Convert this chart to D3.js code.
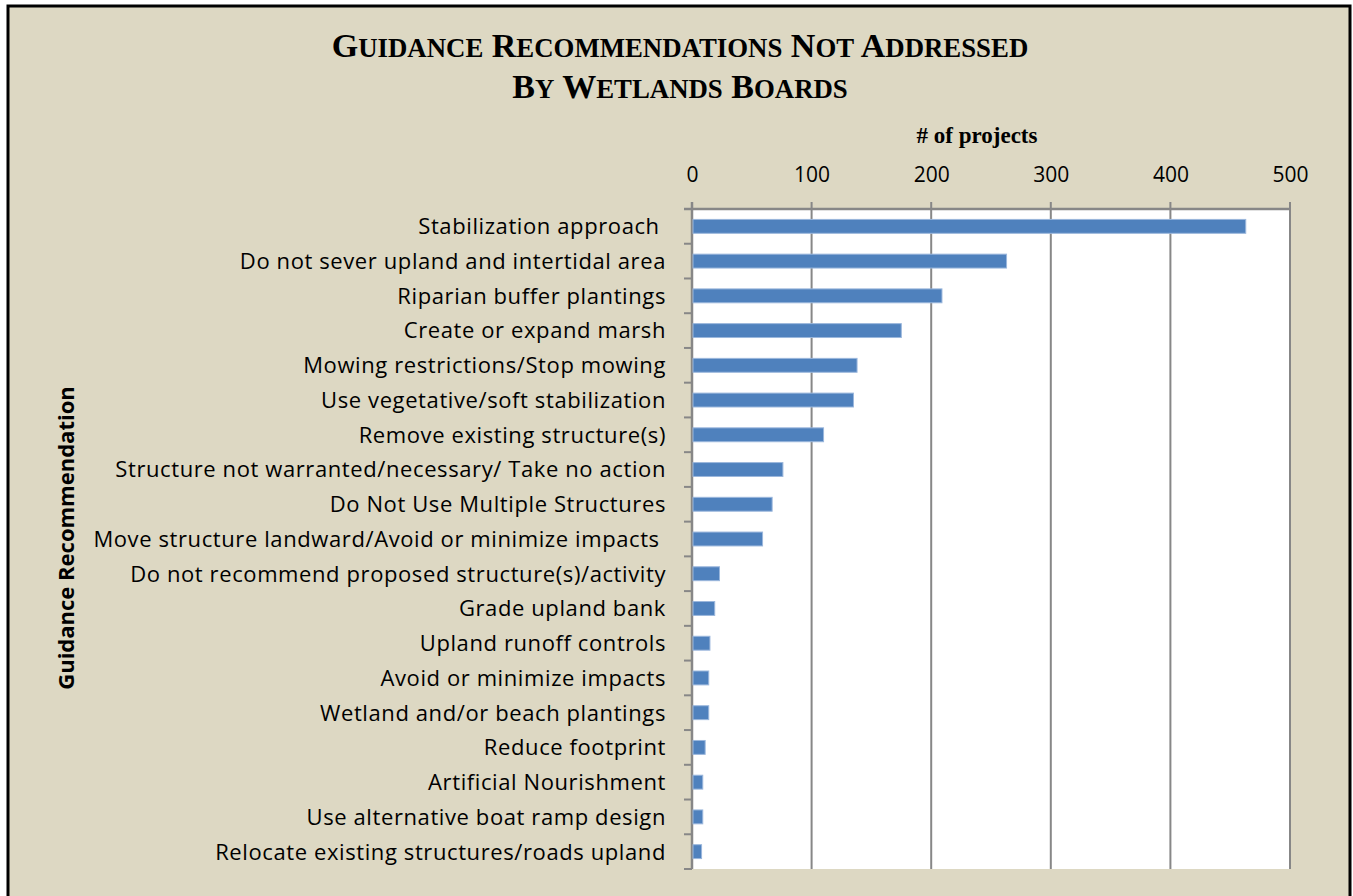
<!DOCTYPE html>
<html>
<head>
<meta charset="utf-8">
<script src="https://cdn.jsdelivr.net/npm/d3@7"></script>
<style>
  body { margin: 0; background: #fff; }
  svg { display: block; }
</style>
</head>
<body>
<div id="chart"></div>
<script>
// categories, top to bottom
var categories = [
  "Stabilization approach ",
  "Do not sever upland and intertidal area",
  "Riparian buffer plantings",
  "Create or expand marsh",
  "Mowing restrictions/Stop mowing",
  "Use vegetative/soft stabilization",
  "Remove existing structure(s)",
  "Structure not warranted/necessary/ Take no action",
  "Do Not Use Multiple Structures",
  "Move structure landward/Avoid or minimize impacts ",
  "Do not recommend proposed structure(s)/activity",
  "Grade upland bank",
  "Upland runoff controls",
  "Avoid or minimize impacts",
  "Wetland and/or beach plantings",
  "Reduce footprint",
  "Artificial Nourishment",
  "Use alternative boat ramp design",
  "Relocate existing structures/roads upland"
];
// # of projects
var projects = [463, 263, 209, 175, 138, 135, 110, 76, 67, 59, 23, 19, 15, 14, 14, 11, 9, 9, 8];
var xTicks = [0, 100, 200, 300, 400, 500];
var titleLines = ["Guidance Recommendations Not Addressed", "By Wetlands Boards"];

var width = 1353, height = 896;

var svg = d3.select("#chart").append("svg")
    .attr("width", width)
    .attr("height", height);

// background + frame
svg.append("rect")
    .attr("x", 8).attr("y", 6)
    .attr("width", 1342).attr("height", 900)
    .attr("fill", "#ddd8c3")
    .attr("stroke", "#000")
    .attr("stroke-width", 3);

// plot area
var plot = {left: 692, right: 1290, top: 209, bottom: 869};

var x = d3.scaleLinear()
    .domain([0, 500])
    .range([plot.left, plot.right]);

var y = d3.scaleBand()
    .domain(categories)
    .range([plot.top, plot.bottom])
    .paddingInner(0.6)
    .paddingOuter(0.3);

svg.append("rect")
    .attr("x", plot.left).attr("y", plot.top)
    .attr("width", plot.right - plot.left)
    .attr("height", plot.bottom - plot.top)
    .attr("fill", "#fff");

// vertical gridlines
svg.append("g").selectAll("line")
    .data(xTicks.slice(1))
    .enter().append("line")
    .attr("x1", d => x(d)).attr("x2", d => x(d))
    .attr("y1", plot.top - 7).attr("y2", plot.bottom)
    .attr("stroke", "#878787")
    .attr("stroke-width", 2);

// top axis
var topAxis = d3.axisTop(x)
    .tickValues(xTicks)
    .tickSize(0)
    .tickPadding(27);

var gx = svg.append("g")
    .attr("transform", `translate(0, ${plot.top})`)
    .call(topAxis);
gx.select(".domain").remove();
gx.selectAll("text")
    .attr("font-family", "'Open Sans', sans-serif")
    .attr("font-size", 21)
    .attr("fill", "#000");

svg.append("line")
    .attr("x1", plot.left - 8).attr("x2", plot.right)
    .attr("y1", plot.top).attr("y2", plot.top)
    .attr("stroke", "#878787").attr("stroke-width", 2.5);
svg.append("line")
    .attr("x1", plot.left).attr("x2", plot.left)
    .attr("y1", plot.top - 7).attr("y2", plot.bottom)
    .attr("stroke", "#878787").attr("stroke-width", 2.5);

// left tick marks at category boundaries
var bounds = categories.map((c, i) => plot.top + (i + 1) * (plot.bottom - plot.top) / categories.length);
svg.append("g").selectAll("line")
    .data(bounds)
    .enter().append("line")
    .attr("x1", plot.left - 8).attr("x2", plot.left)
    .attr("y1", d => d).attr("y2", d => d)
    .attr("stroke", "#878787").attr("stroke-width", 2);

// bars
svg.append("g").selectAll("rect")
    .data(projects)
    .enter().append("rect")
    .attr("x", x(0) + 1)
    .attr("y", (d, i) => y(categories[i]))
    .attr("width", d => x(d) - x(0) - 1)
    .attr("height", y.bandwidth())
    .attr("fill", "#4f81bd")
    .attr("stroke", "#9bb7dc")
    .attr("stroke-width", 1);

// category labels
svg.append("g").selectAll("text")
    .data(categories)
    .enter().append("text")
    .attr("x", 666)
    .attr("y", d => y(d) + y.bandwidth() / 2)
    .attr("dy", "0.36em")
    .attr("text-anchor", "end")
    .attr("font-family", "'Open Sans', sans-serif")
    .attr("font-size", 22)
    .attr("letter-spacing", 0.6)
    .attr("fill", "#000")
    .style("white-space", "pre")
    .text(d => d);

// title in small caps (built by hand)
var title = svg.append("text")
    .attr("text-anchor", "middle")
    .attr("font-family", "'Liberation Serif', serif")
    .attr("font-weight", "bold")
    .attr("fill", "#000");
titleLines.forEach(function(line, li) {
  var t = title.append("tspan").attr("x", 680).attr("y", 57 + li * 41);
  line.split(" ").forEach(function(word, wi) {
    t.append("tspan").attr("font-size", 34).text((wi > 0 ? " " : "") + word[0]);
    t.append("tspan").attr("font-size", 26.8).text(word.slice(1).toUpperCase());
  });
});

svg.append("text")
    .attr("x", 977).attr("y", 143)
    .attr("text-anchor", "middle")
    .attr("font-family", "'Liberation Serif', serif")
    .attr("font-weight", "bold")
    .attr("font-size", 23)
    .attr("fill", "#000")
    .text("# of projects");

svg.append("text")
    .attr("transform", "translate(74, 538) rotate(-90)")
    .attr("text-anchor", "middle")
    .attr("font-family", "'Open Sans', sans-serif")
    .attr("font-weight", "bold")
    .attr("font-size", 22)
    .attr("fill", "#000")
    .text("Guidance Recommendation");
</script>
</body>
</html>
